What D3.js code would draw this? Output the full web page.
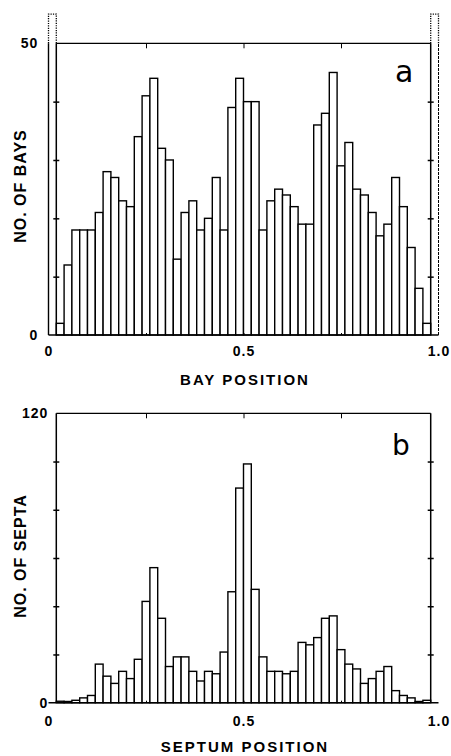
<!DOCTYPE html>
<html>
<head>
<meta charset="utf-8">
<script src="https://cdn.jsdelivr.net/npm/d3@7"></script>
<style>
  body { margin: 0; background: #fff; }
  svg text { font-family: "Liberation Sans", Arial, sans-serif; fill: #000; }
</style>
</head>
<body>
<script>
'use strict';

// bin edges: 50 bins of 0.02 from 0 to 1; inner bins 0.02 .. 0.98
const binWidth = 0.02;

// panel a: number of bays per bin (0.02 .. 0.98)
const bayCounts = [2, 12, 18, 18, 18, 21, 28, 27, 23, 22, 34, 41, 44, 32, 30, 13,
  21, 23, 18, 20, 27, 18, 39, 44, 40, 40, 18, 23, 25, 24, 22, 19,
  19, 36, 38, 45, 29, 33, 25, 24, 21, 17, 19, 27, 22, 15, 8, 2];
// panel a: the two end bins run off the top of the scale (dotted)
const bayEdgeBins = [0, 0.98];
const bayEdgeCounts = [55, 55];

// panel b: number of septa per bin (0.02 .. 0.98)
const septaCounts = [0.6, 0.5, 1, 2, 3, 16, 11, 8, 13, 10, 18, 42, 56, 35, 15, 19,
  19, 13, 9, 13, 12, 21, 46, 89, 99, 47, 19, 13, 13, 12, 13, 25,
  24, 27, 35, 36, 22, 16, 14, 8, 10, 13, 15, 5, 3, 2, 0.5, 1];

const xTicks = [0, 0.5, 1];
const xMinorTicks = [0.25, 0.5, 0.75];
const bayTicks = [0, 50];
const bayMinorTicks = [10, 20, 30, 40];
const septaTicks = [0, 120];
const septaMinorTicks = [20, 40, 60, 80, 100];

const svg = d3.select('body').append('svg')
  .attr('width', 451)
  .attr('height', 756);

const x = d3.scaleLinear().domain([0, 1]).range([48.5, 438.5]);
const fmtX = d => d === 0 ? '0' : d.toFixed(1);

// draw one histogram panel
function drawPanel(opts) {
  const y = d3.scaleLinear().domain([0, opts.yMax]).range([opts.y0, opts.y1]);
  const g = svg.append('g');
  const left = x(binWidth), right = x(1 - binWidth);

  const bins = opts.counts.map((c, i) => ({ x0: binWidth * (i + 1), v: c }));

  g.selectAll('rect.bar')
    .data(bins)
    .enter().append('rect')
    .attr('class', 'bar')
    .attr('x', d => x(d.x0))
    .attr('y', d => y(d.v))
    .attr('width', d => x(d.x0 + binWidth) - x(d.x0))
    .attr('height', d => y(0) - y(d.v))
    .attr('fill', '#fff')
    .attr('stroke', '#000')
    .attr('stroke-width', 1.4);

  // frame: top line, left and right axes
  g.append('line')
    .attr('x1', left).attr('x2', right)
    .attr('y1', y(opts.yMax)).attr('y2', y(opts.yMax))
    .attr('stroke', '#000').attr('stroke-width', 1.3);
  [left, right].forEach(px => {
    g.append('line')
      .attr('x1', px).attr('x2', px)
      .attr('y1', y(0)).attr('y2', y(opts.yMax))
      .attr('stroke', '#000').attr('stroke-width', 1.5);
  });
  // baseline from 0 to 1
  g.append('line')
    .attr('x1', x(0)).attr('x2', x(1))
    .attr('y1', y(0)).attr('y2', y(0))
    .attr('stroke', '#000').attr('stroke-width', 1.6);

  // crossing ticks on both vertical axes
  [left, right].forEach(px => {
    g.append('g').attr('transform', `translate(${px},0)`)
      .call(d3.axisLeft(y).tickValues(opts.minor).tickSize(3).tickFormat(''))
      .call(a => a.select('.domain').remove());
    g.append('g').attr('transform', `translate(${px},0)`)
      .call(d3.axisRight(y).tickValues(opts.minor).tickSize(3).tickFormat(''))
      .call(a => a.select('.domain').remove());
  });
  g.selectAll('.tick line').attr('stroke-width', 1.5);

  // small ticks on top and bottom
  g.append('g').attr('transform', `translate(0,${y(opts.yMax)})`)
    .call(d3.axisBottom(x).tickValues(xMinorTicks).tickSize(5).tickFormat(''))
    .call(a => a.select('.domain').remove());
  g.append('g').attr('transform', `translate(0,${y(0)})`)
    .call(d3.axisTop(x).tickValues(xMinorTicks).tickSize(2).tickFormat(''))
    .call(a => a.select('.domain').remove());

  // y tick labels
  g.append('g').attr('transform', `translate(${left},0)`)
    .call(d3.axisLeft(y).tickValues(opts.yTicks).tickSize(0).tickPadding(opts.yPad))
    .call(a => a.select('.domain').remove())
    .selectAll('text')
    .style('font-size', '14px').style('font-weight', 'bold')
    .style('letter-spacing', '1px');

  // x tick labels
  g.append('g').attr('transform', `translate(0,${y(0)})`)
    .call(d3.axisBottom(x).tickValues(xTicks).tickSize(0).tickPadding(opts.xPad).tickFormat(fmtX))
    .call(a => a.select('.domain').remove())
    .selectAll('text')
    .style('font-size', '14px').style('font-weight', 'bold')
    .style('letter-spacing', '1px');

  // axis titles
  g.append('text')
    .attr('x', 245).attr('y', opts.xTitleY)
    .attr('text-anchor', 'middle')
    .style('font-size', '15px').style('font-weight', 'bold')
    .style('letter-spacing', '2px')
    .text(opts.xTitle);

  g.append('text')
    .attr('transform', `translate(26,${opts.yTitleMid})rotate(-90)`)
    .attr('text-anchor', 'middle')
    .style('font-size', '16px').style('font-weight', 'bold')
    .style('letter-spacing', '1px')
    .text(opts.yTitle);

  // panel letter
  g.append('text')
    .attr('x', opts.letterX).attr('y', opts.letterY)
    .style('font-size', opts.letterSize)
    .style('font-family', '"DejaVu Sans", sans-serif')
    .text(opts.letter);

  return { g: g, y: y };
}

const pa = drawPanel({
  counts: bayCounts, yMax: 50, y0: 335, y1: 43.3,
  minor: bayMinorTicks, yTicks: bayTicks, yPad: 18, xPad: 11,
  xTitle: 'BAY POSITION', xTitleY: 385, yTitle: 'NO. OF BAYS', yTitleMid: 186,
  letter: 'a', letterX: 395, letterY: 82, letterSize: '30px'
});

// off-scale end bins of panel a, dotted above the frame
bayEdgeBins.forEach((b, i) => {
  const x0 = x(b), x1 = x(b + binWidth);
  const yTop = pa.y(bayEdgeCounts[i]);
  pa.g.append('path')
    .attr('d', `M${x0},${pa.y(50)}V${yTop}H${x1}V${pa.y(50)}`)
    .attr('fill', 'none').attr('stroke', '#000')
    .attr('stroke-width', 1.3).attr('stroke-dasharray', '1.2,1.2');
  const outer = i === 0 ? x0 : x1;
  pa.g.append('line')
    .attr('x1', outer).attr('x2', outer)
    .attr('y1', pa.y(0)).attr('y2', pa.y(50))
    .attr('stroke', '#000').attr('stroke-width', i === 0 ? 1.4 : 1)
    .attr('stroke-dasharray', i === 0 ? null : '3,1');
});

drawPanel({
  counts: septaCounts, yMax: 120, y0: 702.7, y1: 413.3,
  minor: septaMinorTicks, yTicks: septaTicks, yPad: 8, xPad: 13,
  xTitle: 'SEPTUM POSITION', xTitleY: 752, yTitle: 'NO. OF SEPTA', yTitleMid: 556,
  letter: 'b', letterX: 392, letterY: 455, letterSize: '28px'
});
</script>
</body>
</html>
